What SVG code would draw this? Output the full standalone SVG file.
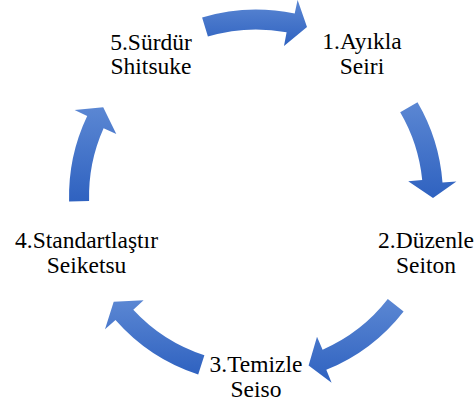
<svg xmlns="http://www.w3.org/2000/svg" width="474" height="408" viewBox="0 0 474 408">
<defs>
<linearGradient id="g" x1="0" y1="0" x2="0" y2="1">
<stop offset="0" stop-color="#5b87d3"/>
<stop offset="1" stop-color="#2f62c0"/>
</linearGradient>
<style>
.arr{fill:url(#g);stroke:none}
.t{font-size:23.5px;fill:#000;text-anchor:middle}
</style>
</defs>
<rect width="474" height="408" fill="#fff"/>
<g id="connectors">
<path class="arr" d="M202.1,17.4 A187,187 0 0 1 294.7,13.6 L297.6,-0.1 L307,27 L284,46.1 L286.6,32.3 A167,167 0 0 0 207.9,36.6 Z"/>
<path class="arr" d="M417.5,102.2 A187,187 0 0 1 442.5,182.5 L456.4,181.4 L433,198 L408.2,181.3 L422.2,179.9 A167,167 0 0 0 400.2,112.2 Z"/>
<path class="arr" d="M403.6,311.4 A187,187 0 0 1 326.3,369.8 L331.6,382.7 L308.6,365.5 L317,336.8 L322.6,349.7 A167,167 0 0 0 387.8,299.1 Z"/>
<path class="arr" d="M198.2,374.4 A187,187 0 0 1 115.5,319.9 L105,329.2 L113.7,301.8 L143.6,300.3 L133.3,309.8 A167,167 0 0 0 204.4,355.3 Z"/>
<path class="arr" d="M69.1,201.4 A187,187 0 0 1 87.2,116 L74.6,110 L103.2,107.2 L116.3,134 L103.6,128.3 A167,167 0 0 0 89.1,200.9 Z"/>
</g>
<g font-family="Liberation Serif, DejaVu Serif, serif">
<g id="node1"><text class="t" x="362" y="49">1.Ayıkla</text><text class="t" x="362" y="73.5">Seiri</text></g>
<g id="node2"><text class="t" x="426" y="248">2.Düzenle</text><text class="t" x="426" y="273">Seiton</text></g>
<g id="node3"><text class="t" x="256" y="372">3.Temizle</text><text class="t" x="256" y="396.5">Seiso</text></g>
<g id="node4"><text class="t" x="86.5" y="248">4.Standartlaştır</text><text class="t" x="86.5" y="273">Seiketsu</text></g>
<g id="node5"><text class="t" x="151" y="49.5">5.Sürdür</text><text class="t" x="151" y="74">Shitsuke</text></g>
</g>
</svg>
